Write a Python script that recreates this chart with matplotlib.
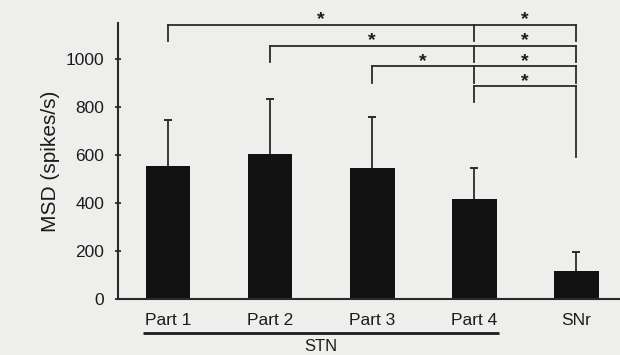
import matplotlib
matplotlib.use("Agg")
import matplotlib.pyplot as plt

plt.rcParams['font.family'] = ['Liberation Sans', 'DejaVu Sans']

categories = ["Part 1", "Part 2", "Part 3", "Part 4", "SNr"]
msd_mean = [554, 604, 546, 417, 115]
msd_err = [192, 229, 212, 129, 79]
yticks = [0, 200, 400, 600, 800, 1000]
group_label = "STN"
group_members = [0, 1, 2, 3]
# significant comparisons: each STN part vs Part 4 (left star) and vs SNr (right star)
sig_vs_part4 = [0, 1, 2]
sig_vs_snr = [0, 1, 2, 3]
ylabel = "MSD (spikes/s)"

bg = '#eeefec'
ink = '#1c1c1c'
line_c = '#2a2a2a'

fig = plt.figure(figsize=(6.2, 3.55), dpi=100, facecolor=bg)
ax = fig.add_axes([0.1903, 0.1577, 0.8097, 0.7775], facecolor=bg)

x = list(range(len(categories)))
tops = [m + e for m, e in zip(msd_mean, msd_err)]
ax.bar(x, msd_mean, width=0.44, color='#111111', zorder=2)
ax.vlines(x, msd_mean, tops, colors=line_c, lw=1.3, zorder=3)
ax.plot(x, tops, ls='none', marker='_', markersize=6, mew=1.4, color=line_c, zorder=3)

ax.set_xlim(-0.49, 4.43)
ax.set_ylim(0, 1150)
ax.set_yticks(yticks)
ax.set_xticks(x)
ax.set_xticklabels(categories)

for s in ['top', 'right']:
    ax.spines[s].set_visible(False)
for s in ['left', 'bottom']:
    ax.spines[s].set_linewidth(1.5)
    ax.spines[s].set_color(line_c)

ax.tick_params(axis='y', direction='inout', length=4, width=1.2, pad=8,
               labelsize=12.5, colors=ink)
ax.tick_params(axis='x', length=0, pad=10, labelsize=12.5, colors=ink)
ax.set_ylabel(ylabel, fontsize=15, color=ink, labelpad=4)

# STN group underline and label
ax.plot([group_members[0] - 0.24, group_members[-1] + 0.24], [-142, -142],
        color=ink, lw=2, clip_on=False, solid_capstyle='butt')
ax.text((group_members[0] + group_members[-1]) / 2, -198, group_label,
        ha='center', va='center', fontsize=12, color=ink, clip_on=False)

# significance brackets
levels = [1142, 1054, 969, 886]
leg = 67
ref = 3
snr = 4
star_kw = dict(ha='center', va='center', fontsize=14, fontweight='bold',
               color=ink, clip_on=False)
for i, part in enumerate(sig_vs_snr):
    yb = levels[i]
    ax.plot([part, snr], [yb, yb], color=line_c, lw=1.3, clip_on=False)
    ax.plot([part, part], [yb, yb - leg], color=line_c, lw=1.3, clip_on=False)
    if part != ref:
        ax.plot([ref, ref], [yb, yb - leg], color=line_c, lw=1.3, clip_on=False)
        ax.plot([snr, snr], [yb, yb - leg], color=line_c, lw=1.3, clip_on=False)
    else:
        ax.plot([snr, snr], [yb, 592], color=line_c, lw=1.3, clip_on=False)
    ax.text((ref + snr) / 2, yb + 22, '*', **star_kw)
    if part in sig_vs_part4:
        ax.text((part + ref) / 2, yb + 22, '*', **star_kw)

fig.savefig('out.png', dpi=100, facecolor=bg)
